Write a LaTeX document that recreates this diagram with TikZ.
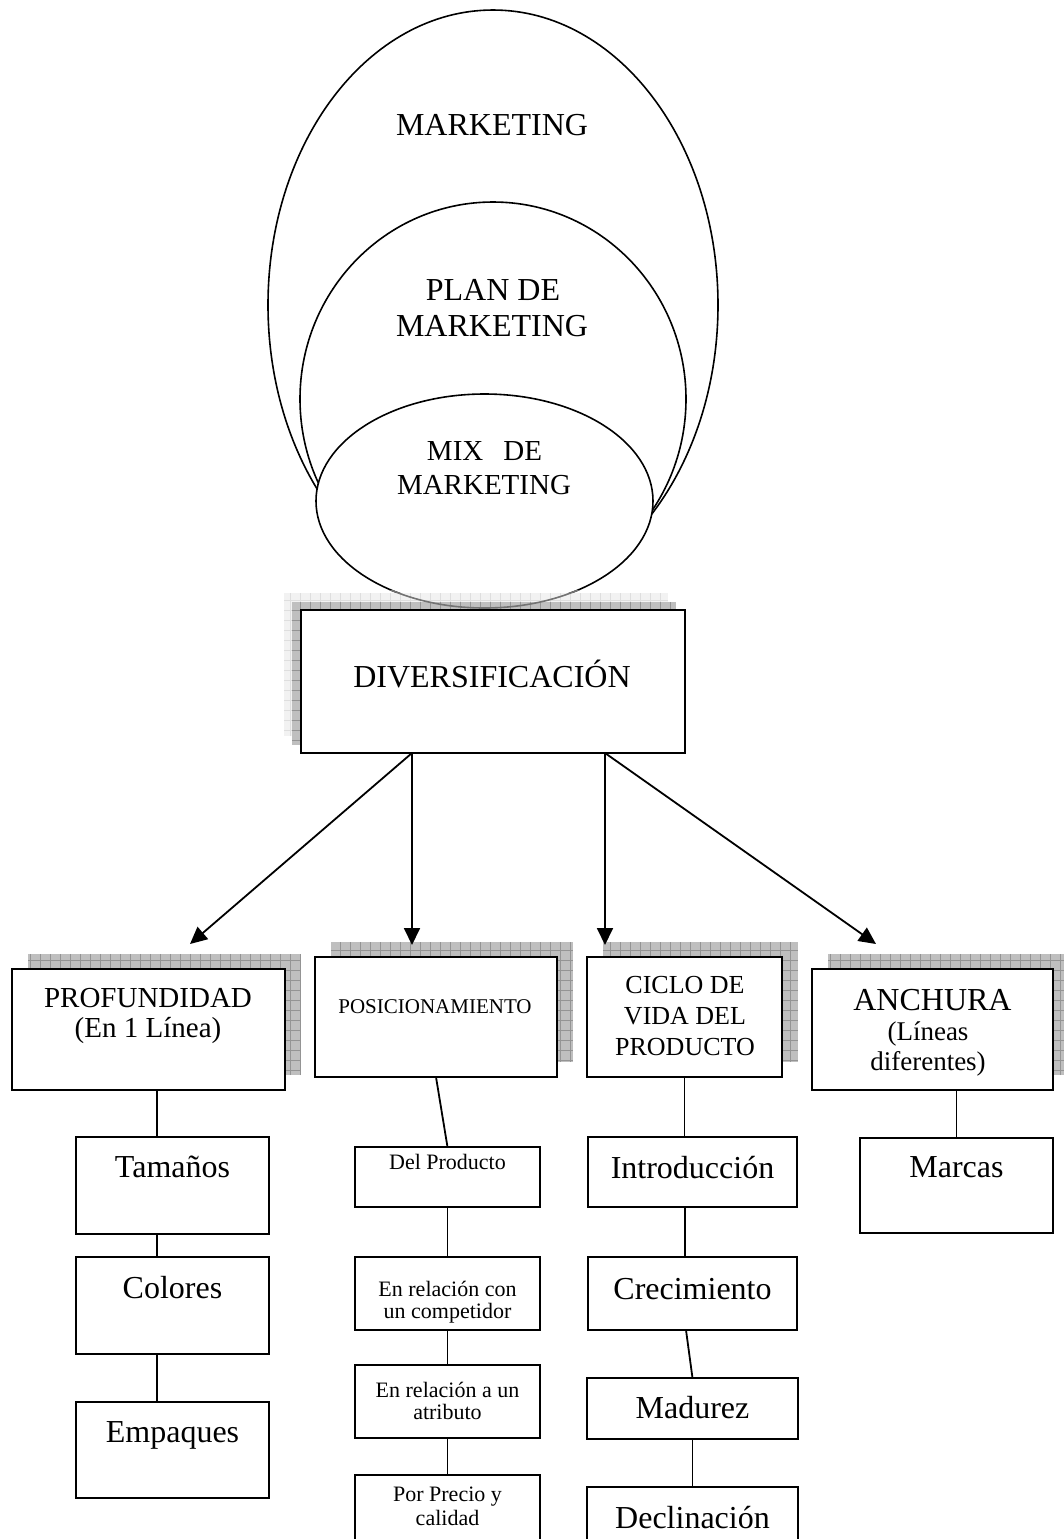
\documentclass[tikz,border=0pt]{standalone}
\usepackage{fontspec}
\setmainfont{Liberation Serif}
\usetikzlibrary{shapes.geometric, arrows.meta, calc}
\pgfdeclarelayer{back}
\pgfdeclarelayer{shade}
\pgfsetlayers{back,shade,main}
\newcommand{\mkshadow}[4]{%
  \begin{scope}
    \clip (#1) rectangle (#2);
    \fill[#3] (#1) rectangle (#2);
    \draw[#4, line width=0.35pt, step=5pt] (#1) grid (#2);
  \end{scope}}
\begin{document}
\begin{tikzpicture}[x=0.5pt, y=-0.5pt,
  box/.style={draw, line width=1pt, fill=white, rectangle, anchor=north west, inner sep=0pt, outer sep=0pt},
  oval/.style={draw, ellipse, line width=0.8pt, inner sep=0pt, outer sep=0pt},
  txt/.style={inner sep=0pt, anchor=base},
  link/.style={line width=0.9pt},
  arr/.style={line width=0.9pt, -{Triangle[length=8.5pt,width=8pt]}},
  f16/.style={font=\fontsize{16}{19}\selectfont},
  f145/.style={font=\fontsize{14.5}{17}\selectfont},
  f135/.style={font=\fontsize{13.5}{16}\selectfont},
  f13/.style={font=\fontsize{13}{15}\selectfont},
  f11/.style={font=\fontsize{11}{13}\selectfont},
  f105/.style={font=\fontsize{10.5}{12.5}\selectfont}]
\useasboundingbox (0,0) rectangle (1064,1539);
\clip (0,0) rectangle (1064,1539);

% ellipses
\begin{pgfonlayer}{back}
\node[oval, minimum width=225pt, minimum height=295pt] (mk) at (493,305) {};
\node[oval, minimum width=193pt, minimum height=197pt] (plan) at (493,399) {};
\node[oval, fill=white, minimum width=168.5pt, minimum height=107pt] (mix) at (484.5,501) {};
\end{pgfonlayer}
\node[txt,f16] (mkT) at (492,135) {MARKETING};
\node[txt,f16] (planT1) at (493,300) {PLAN DE};
\node[txt,f16] (planT2) at (492,336) {MARKETING};
\node[txt,f145] (mixT1) at (484.5,460) {MIX\hspace{10pt}DE};
\node[txt,f145] (mixT2) at (484,494) {MARKETING};

% boxes
\node[box, minimum width=192pt, minimum height=71.5pt] (div) at (301,610) {};
\node[box, minimum width=136.5pt, minimum height=60.5pt] (prof) at (12,969) {};
\node[box, minimum width=121pt, minimum height=60pt] (posi) at (315,957) {};
\node[box, minimum width=97.5pt, minimum height=60pt] (cic) at (587,957) {};
\node[box, minimum width=120.5pt, minimum height=60.5pt] (anch) at (812,969) {};
\node[box, minimum width=96.5pt, minimum height=48.5pt] (tam) at (76,1137) {};
\node[box, minimum width=96.5pt, minimum height=48.5pt] (col) at (76,1257) {};
\node[box, minimum width=96.5pt, minimum height=48pt] (emp) at (76,1402) {};
\node[box, minimum width=92.5pt, minimum height=30pt] (delp) at (355,1147) {};
\node[box, minimum width=92.5pt, minimum height=36.5pt] (rcomp) at (355,1257) {};
\node[box, minimum width=92.5pt, minimum height=36.5pt] (ratr) at (355,1365) {};
\node[box, minimum width=92.5pt, minimum height=42.5pt] (prec) at (355,1475) {};
\node[box, minimum width=104.5pt, minimum height=35pt] (intro) at (588,1137) {};
\node[box, minimum width=104.5pt, minimum height=36.5pt] (crec) at (588,1257) {};
\node[box, minimum width=105.5pt, minimum height=30.5pt] (mad) at (587,1378) {};
\node[box, minimum width=105.5pt, minimum height=36.5pt] (dec) at (587,1487) {};
\node[box, minimum width=96.5pt, minimum height=47.5pt] (marc) at (860,1138) {};

% shadows
\begin{pgfonlayer}{shade}
\mkshadow{[shift={(-17,-17)}]div.south west}{[shift={(-17,-17)}]div.north east}{black!5}{black!13}
\mkshadow{[shift={(-9,-8)}]div.south west}{[shift={(-9,-8)}]div.north east}{black!25}{black!42}
\begin{scope}
  \clip (280,590) rectangle (690,610);
  \draw[black!55, line width=0.8pt] (mix.center) ellipse [x radius=84.25pt, y radius=53.5pt];
\end{scope}
\foreach \b in {prof,posi,cic,anch}{%
  \mkshadow{[shift={(16,-15)}]\b.south west}{[shift={(16,-15)}]\b.north east}{black!25}{black!42}}
\end{pgfonlayer}

% texts in boxes
\node[txt,f16] (divT) at (492,687) {DIVERSIFICACIÓN};
\node[txt,f145] (profT1) at (148,1007) {PROFUNDIDAD};
\node[txt,f145] (profT2) at (148,1037) {(En 1 Línea)};
\node[txt,f105] (posiT) at (435,1013) {POSICIONAMIENTO};
\node[txt,f13] (cicT1) at (685,993) {CICLO DE};
\node[txt,f13] (cicT2) at (685,1024) {VIDA DEL};
\node[txt,f13] (cicT3) at (685,1055) {PRODUCTO};
\node[txt,f16] (anchT1) at (932.5,1010) {ANCHURA};
\node[txt,f135] (anchT2) at (928,1040) {(Líneas};
\node[txt,f135] (anchT3) at (928,1070) {diferentes)};
\node[txt,f16] (tamT) at (172.5,1177) {Tamaños};
\node[txt,f16] (colT) at (172.5,1298) {Colores};
\node[txt,f16] (empT) at (172.5,1442) {Empaques};
\node[txt,f11] (delpT) at (447.5,1169) {Del Producto};
\node[txt,f11] (rcompT1) at (447.5,1296) {En relación con};
\node[txt,f11] (rcompT2) at (447.5,1318) {un competidor};
\node[txt,f11] (ratrT1) at (447.5,1397) {En relación a un};
\node[txt,f11] (ratrT2) at (447.5,1419) {atributo};
\node[txt,f11] (precT1) at (447.5,1501) {Por Precio y};
\node[txt,f11] (precT2) at (447.5,1525) {calidad};
\node[txt,f16] (introT) at (692.5,1178) {Introducción};
\node[txt,f16] (crecT) at (692.5,1299) {Crecimiento};
\node[txt,f16] (madT) at (692.5,1418) {Madurez};
\node[txt,f16] (decT) at (692.5,1528) {Declinación};
\node[txt,f16] (marcT) at (956.5,1177) {Marcas};

% arrows
\coordinate (t1) at (190,944);
\coordinate (t2) at (412,945);
\coordinate (t3) at (605,945);
\coordinate (t4) at (876,944);
\draw[arr] ([xshift=-40.5pt]div.south) -- (t1);
\draw[arr] ([xshift=-40.5pt]div.south) -- (t2);
\draw[arr] ([xshift=56pt]div.south) -- (t3);
\draw[arr] ([xshift=56pt]div.south) -- (t4);

% connectors
\draw[link] ([xshift=4.25pt]prof.south) -- ([xshift=-7.75pt]tam.north);
\draw[link] ([xshift=-7.75pt]tam.south) -- ([xshift=-7.75pt]col.north);
\draw[link] ([xshift=-7.75pt]col.south) -- ([xshift=-7.75pt]emp.north);
\draw[link] (posi.south) -- (delp.north);
\draw[link] (delp.south) -- (rcomp.north);
\draw[link] (rcomp.south) -- (ratr.north);
\draw[link] (ratr.south) -- (prec.north);
\draw[link] (cic.south) -- ([xshift=-4pt]intro.north);
\draw[link] ([xshift=-3.75pt]intro.south) -- ([xshift=-3.75pt]crec.north);
\draw[link] ([xshift=-3.25pt]crec.south) -- (mad.north);
\draw[link] (mad.south) -- (dec.north);
\draw[link] (anch.south -| marc.north) -- (marc.north);
\end{tikzpicture}
\end{document}
